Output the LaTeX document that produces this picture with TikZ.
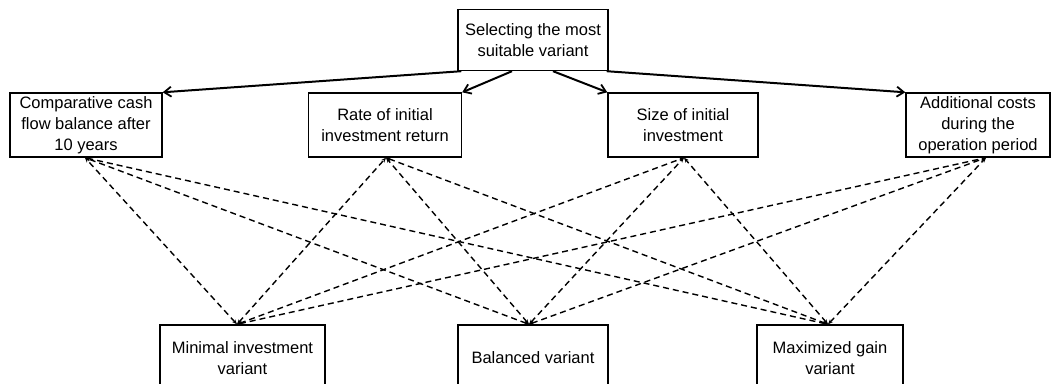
\documentclass[tikz,border=0pt]{standalone}
\usepackage{fontspec}
\setmainfont{Liberation Sans}
\usetikzlibrary{arrows.meta,calc}
\begin{document}
\begin{tikzpicture}[x=1pt,y=-1pt,
  box/.style={draw=black,line width=1.4pt,fill=white,inner sep=0pt,align=center,
    font=\fontsize{16.5}{21}\selectfont},
  mainarrow/.style={line width=2pt,-{Straight Barb[length=7pt,width=10pt,line width=1.8pt]}},
  link/.style={line width=1.4pt,dash pattern=on 6pt off 4pt,
    {Stealth[length=5pt,width=4pt]}-{Stealth[length=5pt,width=4pt]}}]
\useasboundingbox (0,0) rectangle (1051,383);
\clip (0,0) rectangle (1051,383);
\fill[white] (0,0) rectangle (1051,383);
% nodes
\node[box,minimum width=150pt,minimum height=61pt] (sel) at (533,40) {Selecting the most\\suitable variant};
\node[box,minimum width=152pt,minimum height=64pt] (comp) at (86,125) {Comparative cash\\flow balance after\\10 years};
\node[box,minimum width=153pt,minimum height=64pt] (rate) at (385,125) {Rate of initial\\investment return};
\node[box,minimum width=150pt,minimum height=64pt] (size) at (683,125) {Size of initial\\investment};
\node[box,minimum width=144pt,minimum height=64pt] (add) at (978,125) {Additional costs\\during the\\operation period};
\node[box,minimum width=165pt,minimum height=66pt] (min) at (242.5,358) {Minimal investment\\variant};
\node[box,minimum width=150pt,minimum height=66pt] (bal) at (533,358) {Balanced variant};
\node[box,minimum width=146pt,minimum height=66pt] (max) at (830,358) {Maximized gain\\variant};
% anchor coordinates
\coordinate (s1) at ($(sel.south west)+(4,0)$);
\coordinate (s2) at ($(sel.south)+(-21,0)$);
\coordinate (s3) at ($(sel.south)+(20,0)$);
\coordinate (s4) at ($(sel.south east)+(-2,0)$);
\coordinate (tc) at ($(comp.south)+(-1,0)$);
\coordinate (tr) at ($(rate.south)+(1,0)$);
\coordinate (ts) at ($(size.south)+(1,0)$);
\coordinate (ta) at ($(add.south)+(8,0)$);
\coordinate (bm) at ($(min.north)+(-5.5,0)$);
\coordinate (bb) at ($(bal.north)+(-4,0)$);
\coordinate (bx) at ($(max.north)+(-2,0)$);
% main arrows
\draw[mainarrow] (s1) -- (comp.north east);
\draw[mainarrow] (s2) -- (rate.north east);
\draw[mainarrow] (s3) -- (size.north west);
\draw[mainarrow] (s4) -- (add.north west);
% dashed links
\foreach \b in {bm,bb,bx}{
  \foreach \t in {tc,tr,ts,ta}{
    \draw[link] (\b) -- (\t);
  }
}
\end{tikzpicture}
\end{document}
